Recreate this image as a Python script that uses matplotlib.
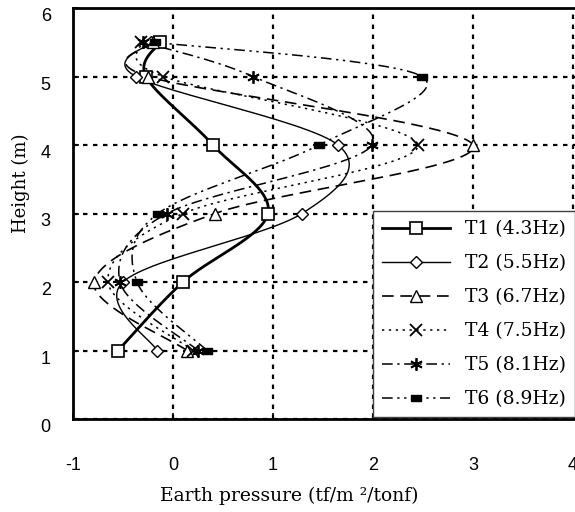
"""
Earth pressure profiles for six shaking tests (T1-T6)
"""

import numpy as np
import matplotlib
matplotlib.use('Agg')
import matplotlib.pyplot as plt

# Data: measurement heights and earth pressure per test
HEIGHTS = [1, 2, 3, 4, 5, 5.5]
T1 = [-0.55, 0.10, 0.95, 0.40, -0.27, -0.13]
T2 = [-0.16, -0.50, 1.29, 1.65, -0.37, -0.22]
T3 = [0.14, -0.79, 0.42, 3.00, -0.25, -0.20]
T4 = [0.20, -0.65, 0.10, 2.45, -0.10, -0.32]
T5 = [0.25, -0.53, -0.06, 1.99, 0.80, -0.30]
T6 = [0.34, -0.36, -0.15, 1.46, 2.49, -0.18]
LABELS = ['T1 (4.3Hz)', 'T2 (5.5Hz)', 'T3 (6.7Hz)',
          'T4 (7.5Hz)', 'T5 (8.1Hz)', 'T6 (8.9Hz)']
X_TICKS = [-1, 0, 1, 2, 3, 4]
Y_TICKS = [0, 1, 2, 3, 4, 5, 6]

SERIF = 'DejaVu Serif'
SANS = 'Liberation Sans'


def smooth(xs, ys, n=30, sx=100.0, sy=68.5):
    """Excel-like smoothed line (Catmull-Rom / Bezier, tension 1/6)"""
    p = np.column_stack([np.asarray(xs) * sx, np.asarray(ys) * sy])
    p = np.vstack([p[0], p, p[-1]])
    out = []
    t = np.linspace(0, 1, n)[:, None]
    for i in range(1, len(p) - 2):
        p0, p1, p2, p3 = p[i - 1], p[i], p[i + 1], p[i + 2]
        c1 = p1 + (p2 - p0) / 6
        c2 = p2 - (p3 - p1) / 6
        seg = ((1 - t) ** 3) * p1 + 3 * ((1 - t) ** 2) * t * c1 \
            + 3 * (1 - t) * t ** 2 * c2 + t ** 3 * p2
        out.append(seg if i == 1 else seg[1:])
    out = np.vstack(out)
    return out[:, 0] / sx, out[:, 1] / sy


rect = [(-1, -0.6), (1, -0.6), (1, 0.6), (-1, 0.6), (-1, -0.6)]
STYLES = [
    dict(lw=2.0, ls='-', marker='s', ms=8, mfc='white', mew=1.2),
    dict(lw=1.0, ls='-', marker='D', ms=6, mfc='white', mew=1.0),
    dict(lw=1.2, ls=(0, (7, 4)), marker='^', ms=8, mfc='white', mew=1.0),
    dict(lw=1.1, ls=(0, (1.5, 3)), marker='x', ms=8, mew=1.3),
    dict(lw=1.1, ls=(0, (7, 3, 1.5, 3)), marker=(6, 2, 0), ms=9, mew=1.3),
    dict(lw=1.1, ls=(0, (7, 3, 1.5, 3, 1.5, 3)), marker=rect, ms=7, mfc='black'),
]

fig = plt.figure(figsize=(5.75, 5.12), dpi=100)
ax = fig.add_axes([73 / 575, 93 / 512, 510 / 575, 411 / 512])

series = [T1, T2, T3, T4, T5, T6]
handles = []
for vals, st, lab in zip(series, STYLES, LABELS):
    sx, sy = smooth(vals, HEIGHTS)
    ax.plot(sx, sy, color='black', lw=st['lw'], ls=st['ls'], zorder=3)
    ax.plot(vals, HEIGHTS, ls='none', color='black', marker=st['marker'],
            ms=st['ms'], mfc=st.get('mfc', 'black'), mec='black',
            mew=st.get('mew', 1.0), zorder=4)
    h, = ax.plot([], [], color='black', lw=st['lw'], ls=st['ls'],
                 marker=st['marker'], ms=st['ms'], mfc=st.get('mfc', 'black'),
                 mec='black', mew=st.get('mew', 1.0))
    handles.append(h)

ax.set_xlim(-1, 4.1)
ax.set_ylim(0, 6)
ax.set_xticks(X_TICKS, labels=[str(v) for v in X_TICKS],
              fontfamily=SANS, fontsize=13)
ax.set_yticks(Y_TICKS, labels=[str(v) for v in Y_TICKS],
              fontfamily=SANS, fontsize=13, va='top')
ax.tick_params(direction='in', length=4, width=1.2, colors='black')
ax.tick_params(axis='x', pad=27)
ax.tick_params(axis='y', pad=16)

ax.grid(True, color='black', lw=1.6, ls=(0, (2, 2.5)))
ax.set_axisbelow(True)
for s in ax.spines.values():
    s.set_linewidth(2)

ax.set_xlabel('Earth pressure (tf/m \u00b2/tonf)', fontfamily=SERIF,
              fontsize=13.5)
ax.xaxis.set_label_coords(0.425, -0.165)
ax.set_ylabel('Height (m)', fontfamily=SERIF, fontsize=13)
ax.yaxis.set_label_coords(-0.084, 0.574)

leg = ax.legend(handles, LABELS, loc='upper left',
                bbox_to_anchor=(0.588, 0.506), borderaxespad=0,
                numpoints=1, handlelength=3.6, labelspacing=0.85,
                borderpad=0.5, fancybox=False, framealpha=1, edgecolor='0.25',
                prop={'family': SERIF, 'size': 13.5})
leg.get_frame().set_linewidth(1.0)

plt.savefig('out.png', dpi=100)
